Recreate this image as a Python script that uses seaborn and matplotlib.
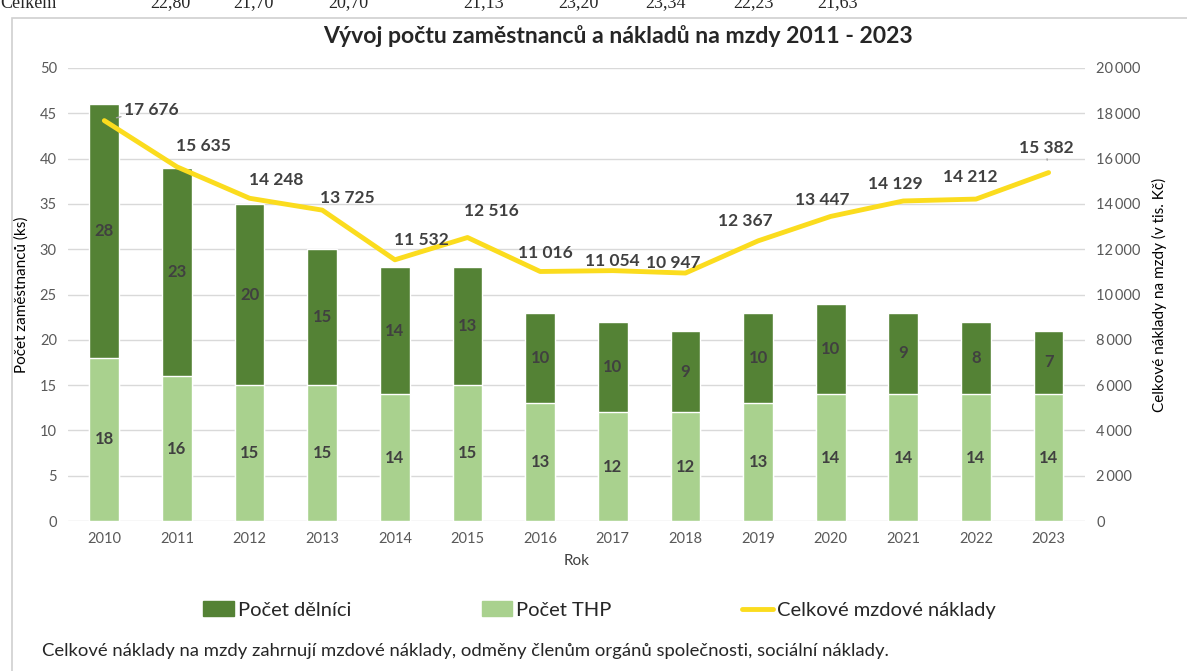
import numpy as np
import pandas as pd
import matplotlib.pyplot as plt
import seaborn as sns
from matplotlib.patches import Rectangle
from matplotlib.lines import Line2D
from matplotlib.ticker import FuncFormatter

sns.set_style("white")
plt.rcParams["font.family"] = ["Lato", "DejaVu Sans"]

years = ["2010", "2011", "2012", "2013", "2014", "2015", "2016",
         "2017", "2018", "2019", "2020", "2021", "2022", "2023"]
thp = [18, 16, 15, 15, 14, 15, 13, 12, 12, 13, 14, 14, 14, 14]
delnici = [28, 23, 20, 15, 14, 13, 10, 10, 9, 10, 10, 9, 8, 7]
naklady = [17676, 15635, 14248, 13725, 11532, 12516, 11016,
           11054, 10947, 12367, 13447, 14129, 14212, 15382]

# cut-off table row above the chart
header_label = "Celkem"
header_vals = ["22,80", "21,70", "20,70", "21,13", "23,20", "23,34", "22,23", "21,63"]

DARK = "#548235"
LIGHT = "#A9D18E"
YELLOW = "#FBDC1E"
TXT = "#404040"
TICK = "#595959"

df = pd.DataFrame({"rok": years, "thp": thp, "delnici": delnici, "naklady": naklady})
df["celkem"] = df["thp"] + df["delnici"]

fig = plt.figure(figsize=(11.87, 6.71), dpi=100)
ax = fig.add_axes([0.0573, 0.2235, 0.8567, 0.6752])

# frame around chart
fig.patches.append(Rectangle((12 / 1187, -0.01), 1.0, 1 - 18 / 671 + 0.01,
                             transform=fig.transFigure, fill=False,
                             edgecolor="#D0D0D0", linewidth=1.2))

# clipped table row at the very top
fig.text(0.0, 1 - 3 / 671, header_label, family="Liberation Serif", fontsize=13,
         va="center", ha="left")
hx = [170, 253, 348, 484, 578, 666, 753, 838]
for v, x in zip(header_vals, hx):
    fig.text(x / 1187, 1 - 3 / 671, v, family="Liberation Serif", fontsize=13,
             va="center", ha="center")

sns.barplot(data=df, x="rok", y="celkem", color=DARK, width=0.41, ax=ax,
            saturation=1, zorder=2)
sns.barplot(data=df, x="rok", y="thp", color=LIGHT, width=0.41, ax=ax,
            saturation=1, zorder=3)

for i, (t, d) in enumerate(zip(thp, delnici)):
    ax.text(i, t / 2, str(t), ha="center", va="center", fontsize=12,
            fontweight="bold", color=TXT, zorder=4)
    ax.text(i, t + d / 2, str(d), ha="center", va="center", fontsize=12,
            fontweight="bold", color=TXT, zorder=4)

ax.set_ylim(0, 50)
ax.set_yticks(range(0, 51, 5))
ax.set_xlim(-0.5, len(years) - 0.5)
ax.grid(axis="y", color="#D9D9D9", linewidth=1, zorder=0)
ax.set_axisbelow(True)
for s in ax.spines.values():
    s.set_visible(False)
ax.tick_params(axis="both", length=0, labelsize=10.5, labelcolor=TICK, pad=8)
ax.set_xlabel("Rok", fontsize=11, color=TXT, labelpad=6)
ax.set_ylabel("Počet zaměstnanců (ks)", fontsize=11, color="black", labelpad=8)

ax2 = ax.twinx()
sns.lineplot(data=df, x="rok", y="naklady", color=YELLOW, linewidth=3.5,
             ax=ax2, zorder=5)
ax2.set_ylim(0, 20000)
ax2.set_yticks(range(0, 20001, 2000))
ax2.yaxis.set_major_formatter(FuncFormatter(lambda v, p: f"{int(v):,}".replace(",", "\u2009")))
for s in ax2.spines.values():
    s.set_visible(False)
ax2.tick_params(axis="y", length=0, labelsize=10.5, labelcolor=TICK, pad=8)
ax2.set_ylabel("Celkové náklady na mzdy (v tis. Kč)", fontsize=11, color="black",
               labelpad=8)
ax2.set_xlabel("")

offsets = [(34, 8), (19, 15), (19, 13), (18, 9), (19, 14), (17, 19), (4, 13),
           (0, 7), (-9, 7), (-9, 14), (-6, 12), (-6, 12), (-4, 16), (-2, 18)]
for i, (v, off) in enumerate(zip(naklady, offsets)):
    lab = f"{v:,}".replace(",", " ")
    kw = {}
    if i in (0, 13):
        kw["arrowprops"] = dict(arrowstyle="-", color="#A6A6A6", lw=1,
                                shrinkA=0, shrinkB=9)
    ax2.annotate(lab, (i, v), xytext=off, textcoords="offset points",
                 ha="center", va="center", fontsize=12.5, fontweight="bold",
                 color=TXT, zorder=6, **kw)

fig.text(618 / 1187, 1 - 36 / 671, "Vývoj počtu zaměstnanců a nákladů na mzdy 2011 - 2023",
         ha="center", va="center", fontsize=16.6, fontweight="bold")

handles = [Rectangle((0, 0), 1, 1, color=DARK),
           Rectangle((0, 0), 1, 1, color=LIGHT),
           Line2D([0], [0], color=YELLOW, linewidth=3.5)]
fig.legend(handles, ["Počet dělníci", "Počet THP", "Celkové mzdové náklady"],
           loc="center", bbox_to_anchor=(0.505, 1 - 610 / 671), ncol=3,
           frameon=False, fontsize=14.5, columnspacing=6.5, handlelength=1.5,
           handletextpad=0.2)

fig.text(42 / 1187, 1 - 651 / 671,
         "Celkové náklady na mzdy zahrnují mzdové náklady, odměny členům orgánů společnosti, sociální náklady.",
         ha="left", va="center", fontsize=13.3)

fig.savefig("out.png", dpi=100)
